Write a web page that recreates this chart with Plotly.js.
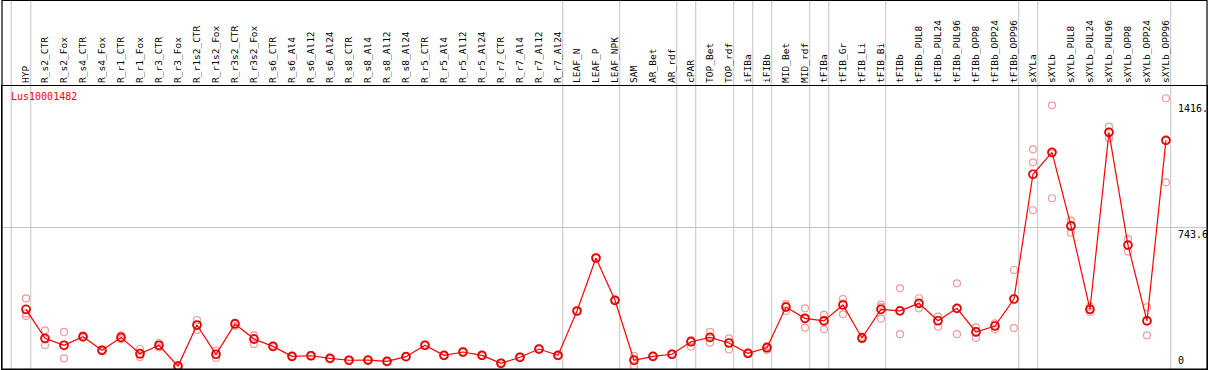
<!DOCTYPE html>
<html><head><meta charset="utf-8">
<script src="https://cdn.plot.ly/plotly-3.0.1.min.js"></script>
<style>html,body{margin:0;padding:0;background:#fff}</style>
</head><body><div id="chart" style="width:1209px;height:370px"></div>
<script>
const categories = ['HYP','R_s2_CTR','R_s2_Fox','R_s4_CTR','R_s4_Fox','R_r1_CTR','R_r1_Fox','R_r3_CTR','R_r3_Fox','R_r1s2_CTR','R_r1s2_Fox','R_r3s2_CTR','R_r3s2_Fox','R_s6_CTR','R_s6_Al4','R_s6_Al12','R_s6_Al24','R_s8_CTR','R_s8_Al4','R_s8_Al12','R_s8_Al24','R_r5_CTR','R_r5_Al4','R_r5_Al12','R_r5_Al24','R_r7_CTR','R_r7_Al4','R_r7_Al12','R_r7_Al24','LEAF_N','LEAF_P','LEAF_NPK','SAM','AR_Bet','AR_rdf','cPAR','TOP_Bet','TOP_rdf','iFIBa','iFIBb','MID_Bet','MID_rdf','tFIBa','tFIB_Gr','tFIB_Li','tFIB_Bi','tFIBb','tFIBb_PUL8','tFIBb_PUL24','tFIBb_PUL96','tFIBb_OPP8','tFIBb_OPP24','tFIBb_OPP96','sXYLa','sXYLb','sXYLb_PUL8','sXYLb_PUL24','sXYLb_PUL96','sXYLb_OPP8','sXYLb_OPP24','sXYLb_OPP96'];
const means = [308,153,116,162,89,158,71,116,5,224,68,230,149,110,57,60,46,36,37,30,55,116,62,80,62,20,52,96,62,299,582,356,36,57,68,135,158,128,73,103,320,260,246,331,155,308,300,340,247,313,187,219,363,1029,1146,753,308,1253,651,246,1210];
const rep1 = [366,196,187,168,93,169,96,128,9,251,87,237,169,114,60,63,49,39,40,33,58,120,65,84,65,23,55,100,65,303,586,360,60,60,71,144,187,153,76,112,336,313,278,363,162,333,420,367,269,447,212,233,518,1162,1397,781,322,1283,683,319,1435];
const rep2 = [272,116,46,156,85,148,53,105,2,198,48,219,123,106,54,57,43,33,34,27,52,112,59,76,59,17,49,92,59,295,578,352,5,54,65,108,130,94,70,91,299,210,201,281,148,258,175,313,215,175,156,201,208,837,901,717,294,1221,616,169,986];
const rep3 = [286,147,115,162,89,157,64,115,4,223,69,234,155,110,57,60,46,36,37,30,55,116,62,80,62,20,52,96,62,299,582,356,43,57,68,138,158,130,73,105,325,258,250,340,155,320,300,340,250,313,190,222,363,1093,1140,758,308,1255,651,250,1209];
const geneLabel = 'Lus10001482';
const groupEnds = ['HYP','R_r7_Al24','LEAF_NPK','AR_rdf','cPAR','TOP_rdf','iFIBa','iFIBb','MID_rdf','tFIBa','tFIB_Bi','tFIBb_OPP96','sXYLa','sXYLb_OPP96'];
const yLabelVals = [1416, 743.6, 0];
const yLabelText = ['1416.', '743.6', '0'];

const FONT = 'DejaVu Sans Mono, Liberation Mono, monospace';
const topPaper = 369.5/283;

const repX = categories.concat(categories, categories);
const repY = rep1.concat(rep2, rep3);

const traces = [
  {type:'scatter', mode:'markers', x:repX, y:repY, hoverinfo:'skip',
   marker:{symbol:'circle-open', size:7, color:'#f09a9a', line:{width:1.2, color:'#f09a9a'}}},
  {type:'scatter', mode:'lines+markers', x:categories, y:means,
   line:{color:'#ff0000', width:1.2},
   marker:{symbol:'circle-open', size:8, color:'#e00000', line:{width:1.7, color:'#e00000'}}}
];

const shapes = [];
shapes.push({type:'line', xref:'x', yref:'paper', x0:-0.78, x1:-0.78, y0:0, y1:topPaper, line:{color:'#c4c4c4', width:1}, layer:'below'});
groupEnds.forEach(g => {
  const i = categories.indexOf(g) + 0.25;
  shapes.push({type:'line', xref:'x', yref:'paper', x0:i, x1:i, y0:0, y1:topPaper, line:{color:'#c4c4c4', width:1}, layer:'below'});
});
shapes.push({type:'rect', xref:'paper', yref:'paper', x0:0, x1:1, y0:0, y1:(369-0.5)/283, line:{color:'#000', width:1.2}});

const annotations = [
  {xref:'paper', yref:'paper', x:0.006, y:0.99, xanchor:'left', yanchor:'top', text:geneLabel, showarrow:false, font:{family:FONT, size:10, color:'#ff0000'}}
];
yLabelVals.forEach((v, k) => {
  annotations.push({xref:'paper', yref:'y', x:(1176-2)/1205, y:v, xanchor:'left',
    yanchor: v === 0 ? 'bottom' : 'top', yshift: v === 0 ? -1 : 1,
    text:yLabelText[k], showarrow:false, font:{family:FONT, size:10, color:'#000'}});
});

const layout = {
  width:1209, height:370,
  margin:{l:2, r:2, t:86, b:1, pad:0},
  paper_bgcolor:'#fff', plot_bgcolor:'#fff',
  showlegend:false,
  xaxis:{type:'category', side:'top', range:[-1.263, 62.16], tickangle:-90,
    tickfont:{family:FONT, size:9.5, color:'#000'}, ticks:'', showgrid:false, zeroline:false,
    showline:true, mirror:true, linecolor:'#000', linewidth:1.2, automargin:false},
  yaxis:{range:[-10.7, 1500.3], tickvals:[743.6], showticklabels:false, ticks:'',
    showgrid:true, gridcolor:'#c4c4c4', gridwidth:1, zeroline:false,
    showline:true, mirror:true, linecolor:'#000', linewidth:1.2, automargin:false},
  shapes:shapes, annotations:annotations
};
Plotly.newPlot('chart', traces, layout, {displayModeBar:false, staticPlot:true});
</script></body></html>
